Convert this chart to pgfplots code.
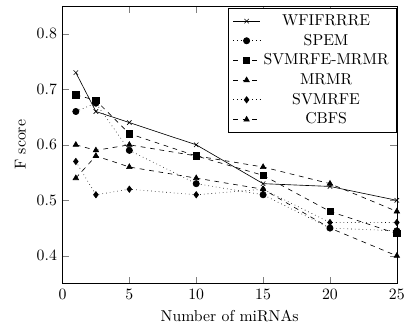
\documentclass[border=0pt]{standalone}
\usepackage{pgfplots}
\pgfplotsset{compat=1.18}
\begin{document}
\begin{tikzpicture}
\begin{axis}[
  name=ax,
  scale only axis,
  width=212pt, height=176pt,
  xmin=0, xmax=25, ymin=0.35, ymax=0.85,
  xtick={0,5,10,15,20,25},
  ytick={0.4,0.5,0.6,0.7,0.8},
  xlabel={Number of miRNAs},
  ylabel={F score},
  legend style={at={(1,0.993)}, anchor=north east},
  legend cell align=center,
]
\addplot[black, solid, mark=x] coordinates {(1,0.73) (2.5,0.66) (5,0.64) (10,0.60) (15,0.53) (20,0.525) (25,0.50)};
\addlegendentry{WFIFRRRE}
\addplot[black, dotted, mark=*, mark options={solid}] coordinates {(1,0.66) (2.5,0.675) (5,0.59) (10,0.53) (15,0.51) (20,0.45) (25,0.445)};
\addlegendentry{SPEM}
\addplot[black, dashed, mark=square*, mark options={solid}] coordinates {(1,0.69) (2.5,0.68) (5,0.62) (10,0.58) (15,0.545) (20,0.48) (25,0.44)};
\addlegendentry{SVMRFE-MRMR}
\addplot[black, dashed, mark=triangle*, mark options={solid}] coordinates {(1,0.60) (2.5,0.59) (5,0.60) (10,0.58) (15,0.56) (20,0.53) (25,0.48)};
\addlegendentry{MRMR}
\addplot[black, dotted, mark=diamond*, mark options={solid}] coordinates {(1,0.57) (2.5,0.51) (5,0.52) (10,0.51) (15,0.52) (20,0.46) (25,0.46)};
\addlegendentry{SVMRFE}
\addplot[black, dashed, mark=triangle*, mark options={solid}] coordinates {(1,0.54) (2.5,0.58) (5,0.56) (10,0.54) (15,0.52) (20,0.45) (25,0.40)};
\addlegendentry{CBFS}
\end{axis}
\path ([xshift=-39.6pt, yshift=3.8pt]ax.north west) rectangle (ax.south west);
\end{tikzpicture}
\end{document}
